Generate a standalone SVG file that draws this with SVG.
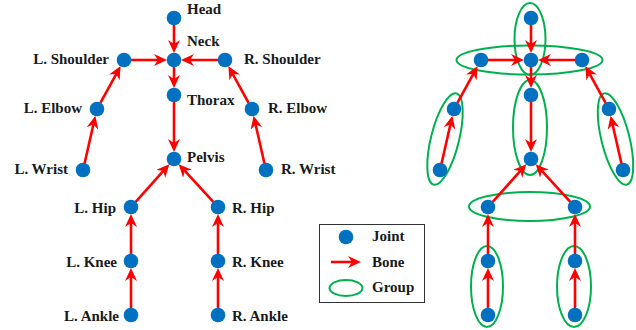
<svg xmlns="http://www.w3.org/2000/svg" width="636" height="330" viewBox="0 0 636 330">
<style>
.j{fill:#0070C0}
.b{stroke:#FF0000;stroke-width:2.6;fill:none;marker-end:url(#ah)}
.g{fill:none;stroke:#00B050;stroke-width:2}
text{font-family:"Liberation Serif","Times New Roman",serif;font-weight:bold;font-size:15px;fill:#1a1a1a}
.e{text-anchor:end}
</style>
<defs>
<marker id="ah" markerUnits="userSpaceOnUse" viewBox="0 0 14 12" markerWidth="14" markerHeight="12" refX="9" refY="6" orient="auto">
<path d="M0,0 L13,6 L0,12 L4,6 z" fill="#FF0000"/>
</marker>
<g id="bones">
<line x1="174" y1="25" x2="174" y2="49"/>
<line x1="131" y1="60" x2="163" y2="60"/>
<line x1="218" y1="60" x2="185" y2="60"/>
<line x1="174" y1="67" x2="174" y2="84"/>
<line x1="100.4" y1="102.9" x2="118.7" y2="69.6"/>
<line x1="248.6" y1="102.9" x2="230.3" y2="69.6"/>
<line x1="84.6" y1="163.2" x2="94.5" y2="119.7"/>
<line x1="264.4" y1="163.2" x2="254.5" y2="119.7"/>
<line x1="174" y1="102" x2="174" y2="148"/>
<line x1="135.7" y1="201.8" x2="166.7" y2="167.2"/>
<line x1="213.3" y1="201.8" x2="181.4" y2="167.1"/>
<line x1="131" y1="254" x2="131" y2="218"/>
<line x1="218" y1="254" x2="218" y2="218"/>
<line x1="131" y1="308" x2="131" y2="272"/>
<line x1="218" y1="308" x2="218" y2="272"/>
</g>
</defs>

<!-- Left skeleton -->
<g id="connectors-left" class="b"><use href="#bones"/></g>
<g id="n-head"><circle class="j" cx="174" cy="18" r="7.3"/><text x="187" y="14">Head</text></g>
<g id="n-neck"><circle class="j" cx="174" cy="60" r="7.3"/><text x="187" y="46">Neck</text></g>
<g id="n-lshoulder"><circle class="j" cx="124" cy="60" r="7.3"/><text class="e" x="109" y="64">L. Shoulder</text></g>
<g id="n-rshoulder"><circle class="j" cx="225" cy="60" r="7.3"/><text x="244" y="64">R. Shoulder</text></g>
<g id="n-thorax"><circle class="j" cx="174" cy="95" r="7.3"/><text x="187" y="105">Thorax</text></g>
<g id="n-lelbow"><circle class="j" cx="97" cy="109" r="7.3"/><text class="e" x="82" y="113">L. Elbow</text></g>
<g id="n-relbow"><circle class="j" cx="252" cy="109" r="7.3"/><text x="268" y="113">R. Elbow</text></g>
<g id="n-pelvis"><circle class="j" cx="174" cy="159" r="7.3"/><text x="187" y="162">Pelvis</text></g>
<g id="n-lwrist"><circle class="j" cx="83" cy="170" r="7.3"/><text class="e" x="68" y="174">L. Wrist</text></g>
<g id="n-rwrist"><circle class="j" cx="266" cy="170" r="7.3"/><text x="281" y="174">R. Wrist</text></g>
<g id="n-lhip"><circle class="j" cx="131" cy="207" r="7.3"/><text class="e" x="116" y="213">L. Hip</text></g>
<g id="n-rhip"><circle class="j" cx="218" cy="207" r="7.3"/><text x="232" y="213">R. Hip</text></g>
<g id="n-lknee"><circle class="j" cx="131" cy="261" r="7.3"/><text class="e" x="117" y="267">L. Knee</text></g>
<g id="n-rknee"><circle class="j" cx="218" cy="261" r="7.3"/><text x="232" y="267">R. Knee</text></g>
<g id="n-lankle"><circle class="j" cx="131" cy="315" r="7.3"/><text class="e" x="119" y="321">L. Ankle</text></g>
<g id="n-rankle"><circle class="j" cx="218" cy="315" r="7.3"/><text x="232" y="321">R. Ankle</text></g>

<!-- Legend -->
<g id="legend">
<rect x="319.5" y="224.5" width="105" height="78" fill="none" stroke="#333" stroke-width="1"/>
<circle class="j" cx="346" cy="237" r="7.3"/>
<text x="372" y="241">Joint</text>
<line class="b" x1="331" y1="262" x2="357" y2="262"/>
<text x="372" y="267">Bone</text>
<ellipse class="g" cx="346" cy="288" rx="16.5" ry="8"/>
<text x="372" y="292">Group</text>
</g>

<!-- Right skeleton with groups -->
<g id="right" transform="translate(357,0)">
<g id="groups">
<ellipse class="g" cx="173" cy="39" rx="15.5" ry="36"/>
<ellipse class="g" cx="172.5" cy="60" rx="73" ry="14.5"/>
<ellipse class="g" cx="173" cy="127.5" rx="17" ry="47.5"/>
<ellipse class="g" cx="88" cy="139" rx="14" ry="47" transform="rotate(14 88 139)"/>
<ellipse class="g" cx="258.5" cy="139" rx="14" ry="47" transform="rotate(-14 258.5 139)"/>
<ellipse class="g" cx="172.5" cy="206.5" rx="60.5" ry="14.5"/>
<ellipse class="g" cx="130" cy="286.5" rx="16" ry="40.5"/>
<ellipse class="g" cx="217" cy="286.5" rx="17" ry="40.5"/>
</g>
<g id="connectors-right" class="b"><use href="#bones"/></g>
<g id="r-head"><circle class="j" cx="174" cy="18" r="7.3"/></g>
<g id="r-neck"><circle class="j" cx="174" cy="60" r="7.3"/></g>
<g id="r-lshoulder"><circle class="j" cx="124" cy="60" r="7.3"/></g>
<g id="r-rshoulder"><circle class="j" cx="225" cy="60" r="7.3"/></g>
<g id="r-thorax"><circle class="j" cx="174" cy="95" r="7.3"/></g>
<g id="r-lelbow"><circle class="j" cx="97" cy="109" r="7.3"/></g>
<g id="r-relbow"><circle class="j" cx="252" cy="109" r="7.3"/></g>
<g id="r-pelvis"><circle class="j" cx="174" cy="159" r="7.3"/></g>
<g id="r-lwrist"><circle class="j" cx="83" cy="170" r="7.3"/></g>
<g id="r-rwrist"><circle class="j" cx="266" cy="170" r="7.3"/></g>
<g id="r-lhip"><circle class="j" cx="131" cy="207" r="7.3"/></g>
<g id="r-rhip"><circle class="j" cx="218" cy="207" r="7.3"/></g>
<g id="r-lknee"><circle class="j" cx="131" cy="261" r="7.3"/></g>
<g id="r-rknee"><circle class="j" cx="218" cy="261" r="7.3"/></g>
<g id="r-lankle"><circle class="j" cx="131" cy="315" r="7.3"/></g>
<g id="r-rankle"><circle class="j" cx="218" cy="315" r="7.3"/></g>
</g>
</svg>
